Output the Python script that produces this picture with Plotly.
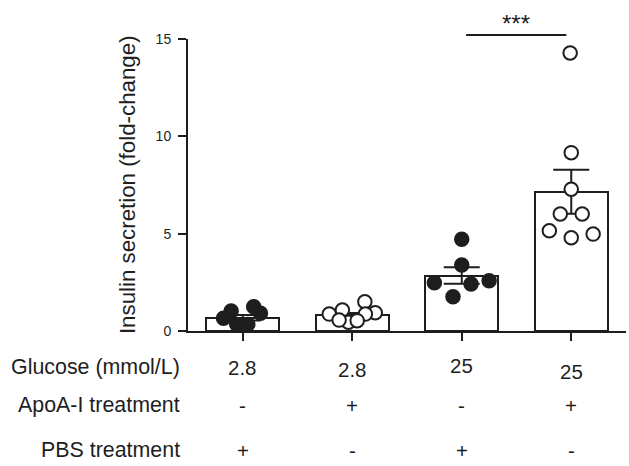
import plotly.graph_objects as go

# ---- data ----
groups = ["G1", "G2", "G3", "G4"]
glucose_labels = ["2.8", "2.8", "25", "25"]
apoa_labels = ["-", "+", "-", "+"]
pbs_labels = ["+", "-", "+", "-"]

bar_means = [0.68, 0.80, 2.85, 7.15]
bar_sems = [0.14, 0.13, 0.42, 1.13]

g1_values = [1.03, 0.65, 1.25, 0.91, 0.34, 0.34]
g1_offsets = [-0.106, -0.176, 0.10, 0.162, -0.055, 0.046]
g2_values = [0.87, 1.08, 1.50, 0.94, 0.87, 0.45, 0.56, 0.53]
g2_offsets = [-0.21, -0.09, 0.115, 0.21, 0.12, -0.035, -0.12, 0.045]
g3_values = [4.71, 3.39, 2.48, 2.41, 2.58, 1.76]
g3_offsets = [0.0, 0.0, -0.25, 0.085, 0.25, -0.08]
g4_values = [14.28, 9.16, 7.28, 6.01, 6.01, 5.15, 4.79, 4.98]
g4_offsets = [-0.01, 0.0, 0.0, -0.10, 0.10, -0.20, 0.0, 0.20]

y_title = "Insulin secretion (fold-change)"
row_titles = ["Glucose (mmol/L)", "ApoA-I treatment", "PBS treatment"]
sig_text = "***"

# ---- styling ----
INK = "#1e1e1e"
FONT = "Liberation Sans, Arial, sans-serif"

fig = go.Figure()
xs = list(range(len(groups)))

fig.add_trace(go.Bar(
    x=xs, y=bar_means, width=0.664,
    marker=dict(color="white", line=dict(color=INK, width=2)),
    error_y=dict(type="data", array=bar_sems, visible=True,
                 color=INK, thickness=2, width=18),
    showlegend=False,
))

point_sets = [
    (0, g1_values, g1_offsets, True),
    (1, g2_values, g2_offsets, False),
    (2, g3_values, g3_offsets, True),
    (3, g4_values, g4_offsets, False),
]
for gi, vals, offs, filled in point_sets:
    fig.add_trace(go.Scatter(
        x=[gi + o for o in offs], y=vals, mode="markers",
        marker=dict(size=13.5, symbol="circle",
                    color=INK if filled else "white",
                    line=dict(color=INK, width=2)),
        cliponaxis=False, showlegend=False,
    ))

# plot area geometry (pixels) used to place the out-of-axes texts
W, H = 629, 466
L, R, T, B = 188, 3, 39, 135
PH = H - T - B


def py(pix):
    return (H - B - pix) / PH


annotations = []
# y-axis title
annotations.append(dict(text=y_title, x=-0.139, y=py(185), xref="paper", yref="paper",
                        textangle=-90, showarrow=False, xanchor="center", yanchor="middle",
                        font=dict(size=22.3, family=FONT, color=INK)))

row_pix = [367, 405, 450]
row_values = [glucose_labels, apoa_labels, pbs_labels]
row_shift = [[0, 2, -2, 4], [0, 0, 0, 0], [0, 0, 0, 0]]
for r, (title, vals) in enumerate(zip(row_titles, row_values)):
    annotations.append(dict(text=title, x=-0.0137, y=py(row_pix[r]), xref="paper", yref="paper",
                            showarrow=False, xanchor="right", yanchor="middle",
                            font=dict(size=21.4, family=FONT, color=INK)))
    for i, v in enumerate(vals):
        annotations.append(dict(text=v, x=xs[i], y=py(row_pix[r] + row_shift[r][i]),
                                xref="x", yref="paper", showarrow=False,
                                xanchor="center", yanchor="middle",
                                font=dict(size=20.5, family=FONT, color=INK)))

# significance bracket between groups 3 and 4
n = len(groups)
sx0 = (2 + 0.04 + 0.5) / n
sx1 = (3 - 0.045 + 0.5) / n
annotations.append(dict(text=sig_text, x=(sx0 + sx1) / 2, y=py(23), xref="paper", yref="paper",
                        showarrow=False, xanchor="center", yanchor="middle",
                        font=dict(size=24, family=FONT, color=INK)))

fig.update_layout(
    width=W, height=H,
    margin=dict(l=L, r=R, t=T, b=B),
    paper_bgcolor="white", plot_bgcolor="white",
    font=dict(family=FONT, color=INK),
    bargap=0, showlegend=False,
    annotations=annotations,
    shapes=[dict(type="line", xref="paper", yref="paper", x0=sx0, x1=sx1,
                 y0=py(35), y1=py(35), line=dict(color=INK, width=2))],
    xaxis=dict(range=[-0.5, 3.5], showgrid=False, zeroline=False,
               showline=True, linecolor=INK, linewidth=2,
               ticks="outside", ticklen=8, tickwidth=2, tickcolor=INK,
               tickvals=xs, showticklabels=False, fixedrange=True),
    yaxis=dict(range=[0, 15], showgrid=False, zeroline=False,
               showline=True, linecolor=INK, linewidth=2,
               ticks="outside", ticklen=8, tickwidth=2, tickcolor=INK,
               tickvals=[0, 5, 10, 15], ticklabelstandoff=4,
               tickfont=dict(size=14, family=FONT, color=INK), fixedrange=True),
)

fig.write_html("out.html")
